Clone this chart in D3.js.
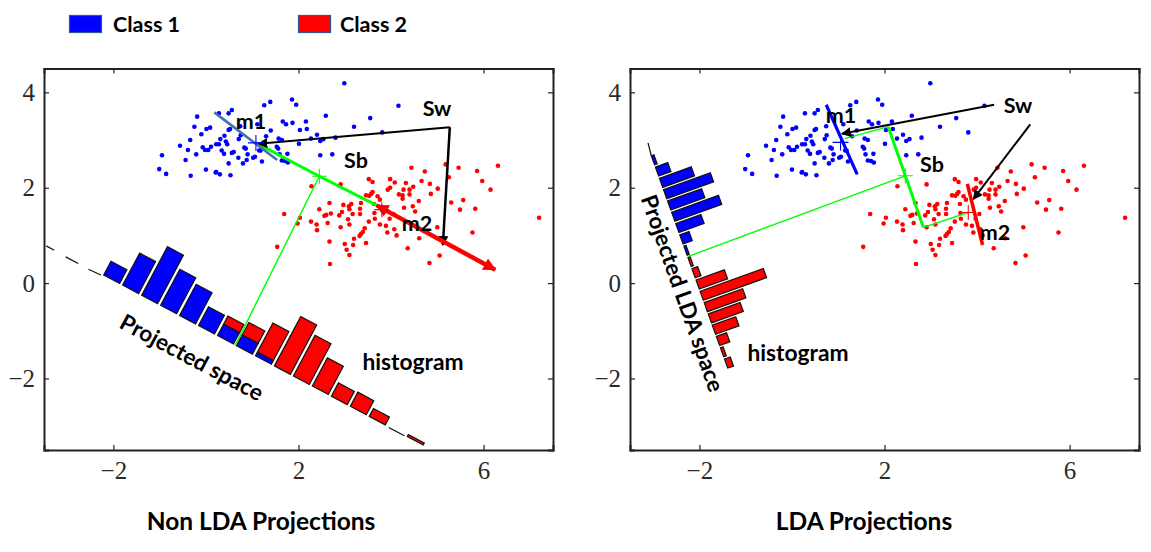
<!DOCTYPE html>
<html>
<head>
<meta charset="utf-8">
<script src="https://cdn.jsdelivr.net/npm/d3@7"></script>
<style>
  html, body { margin: 0; padding: 0; background: #fff; }
  svg { display: block; }
  .tick text { font-family: "Liberation Serif", serif; font-size: 25px; fill: #2a2a2a; }
  .domain, .tick line { stroke: #222; }
  .label { font-family: Lato, sans-serif; font-weight: 700; fill: #000; }
</style>
</head>
<body>
<svg id="chart" width="1151" height="552"></svg>
<script>
const xTicks = [-2, 2, 6]
const yTicks = [-2, 0, 2, 4]

// both panels show the same two point clouds
const class1Points = [
  [-1.01,2.39],[-0.95,2.68],[-0.86,2.29],[-0.56,2.88],[-0.44,2.58],[-0.39,2.79],[-0.34,3.00],[-0.33,2.25],
  [-0.25,3.28],[-0.19,3.49],[-0.21,2.70],[-0.10,3.12],[-0.07,2.85],[-0.02,2.79],[0.01,3.23],[0.00,2.38],
  [0.05,2.79],[0.09,3.26],[0.11,2.86],[0.21,2.32],[0.22,2.33],[0.30,2.28],[0.22,2.91],[0.28,2.91],
  [0.31,3.02],[0.40,3.09],[0.28,3.56],[0.49,3.56],[0.56,3.63],[0.49,3.21],[0.52,3.23],[0.34,2.78],
  [0.39,2.71],[0.43,2.97],[0.46,2.91],[0.56,2.73],[0.60,2.75],[0.49,2.51],[0.53,2.26],[0.71,3.02],
  [0.75,3.10],[0.70,2.63],[0.80,2.51],[0.83,2.84],[0.86,2.82],[0.88,2.58],[0.90,2.70],[1.02,2.63],
  [1.06,2.65],[1.21,2.55],[1.11,3.33],[1.26,3.73],[1.39,3.80],[1.40,3.20],[1.30,3.08],[1.15,2.78],
  [1.18,2.78],[1.53,2.86],[1.56,2.82],[1.59,2.70],[1.71,2.56],[1.76,2.71],[1.77,2.53],[1.57,3.03],
  [0.74,3.29],[1.86,3.85],[1.95,3.74],[1.66,3.39],[1.73,3.33],[1.87,3.36],[2.03,3.21],[2.01,2.92],
  [1.64,3.00],[1.64,2.57],[2.99,4.19],[2.59,3.51],[4.16,3.72],[2.16,3.39],[3.55,3.46],[3.20,3.28],
  [2.18,3.23],[2.40,3.11],[3.81,3.16],[2.27,3.03],[2.47,2.98],[2.54,3.02],[2.80,3.05],[2.47,2.68],
  [2.73,2.70]
]
const class2Points = [
  [1.54,0.76],[2.28,2.03],[1.69,1.45],[2.03,1.37],[1.98,1.25],[2.27,1.29],[2.39,1.23],[2.40,1.11],
  [2.45,1.55],[2.56,1.41],[2.60,1.43],[2.70,1.46],[2.67,1.68],[2.63,1.26],[2.67,0.87],[2.68,0.40],
  [2.91,2.07],[2.97,1.64],[2.94,1.49],[2.88,1.42],[2.91,1.17],[3.00,0.82],[3.04,0.70],[3.10,0.59],
  [3.18,0.80],[3.20,0.93],[3.07,1.34],[3.10,1.23],[3.17,1.45],[3.09,1.61],[3.10,1.55],[3.14,1.66],
  [3.35,1.68],[3.33,1.56],[3.33,1.45],[3.32,0.99],[3.35,1.03],[3.39,1.07],[3.43,1.15],[3.46,0.84],
  [3.52,1.29],[3.46,1.84],[3.53,1.83],[3.57,1.87],[3.60,1.91],[3.71,1.82],[3.76,1.75],[3.64,1.47],
  [3.65,1.35],[3.76,1.23],[3.89,1.20],[3.92,1.06],[4.07,1.13],[4.12,1.00],[3.97,1.35],[3.93,1.96],
  [3.98,2.00],[3.60,2.12],[3.52,2.18],[3.98,2.18],[4.08,2.11],[4.32,2.10],[4.27,1.96],[4.40,1.96],
  [4.48,2.02],[4.17,1.86],[4.25,1.84],[4.25,1.77],[4.40,1.86],[4.60,1.72],[4.28,1.58],[4.47,1.61],
  [4.52,1.50],[4.61,0.94],[4.36,0.73],[4.83,0.42],[5.05,0.58],[5.00,1.17],[4.66,2.14],[4.84,2.08],
  [5.01,1.98],[4.86,1.87],[4.73,2.34],[4.44,2.42],[5.18,2.49],[5.25,2.22],[5.46,2.42],[5.86,2.35],
  [6.31,2.46],[5.97,2.14],[6.15,1.96],[5.30,1.69],[5.56,1.74],[5.49,1.54],[5.82,1.56],[5.76,1.06],
  [7.20,1.37],[4.05,1.45],[3.63,1.66]
]

// histogram bin heights, one value per bin along the projection axis
const leftClass1Bins = [3.3, 7.7, 11.7, 8.7, 7.5, 4.5, 2.8, 2.6, 0.9, 0, 0, 0, 0, 0, 0, 0, 0]
const leftClass2Bins = [0, 0, 0, 0, 0, 0, 1.9, 3.0, 7.0, 11.9, 9.8, 6.8, 3.2, 3.4, 1.9, 0, 0.5]
const rightClass1Bins = [0.6, 2.8, 7.2, 10.6, 7.7, 10.6, 5.7, 2.1, 0.5, 0, 0, 0, 0, 0, 0, 0, 0, 0, 0]
const rightClass2Bins = [0, 0, 0, 0, 0, 0, 0, 0, 0, 0.5, 1.3, 6.4, 14.3, 8.7, 7.2, 5.3, 2.3, 0.6, 1.3]

// first and last bin edge of each histogram on its axis
const leftBinRange = [[-2.21, 0.17], [4.76, -3.43]]
const rightBinRange = [[-3.04, 2.67], [-1.37, -1.83]]

const leftAxisDashes = [
  [[-3.45, 0.78], [-3.28, 0.69]], [[-3.03, 0.55], [-2.76, 0.41]], [[-2.54, 0.29], [-2.27, 0.17]],
  [[3.95, -3.03], [4.29, -3.20]]
]
const rightAxisLine = [[-3.11, 2.94], [-3.04, 2.67]]

const leftSegments = {
  m1Line: [[0.18, 3.58], [1.54, 2.58]],
  sb: [[1.08, 2.94], [2.45, 2.24], [3.69, 1.63]],
  toAxis: [[2.45, 2.24], [0.63, -1.31]],
  sw1: [[5.27, 3.27], [1.13, 2.92]],
  sw2: [[5.27, 3.27], [5.12, 0.80]],
  m2Arrow: [[3.69, 1.63], [6.25, 0.28]]
}
const rightSegments = {
  m1Line: [[0.74, 3.74], [1.41, 2.28]],
  m2Line: [[3.79, 2.08], [4.12, 0.80]],
  sb: [[2.08, 3.28], [2.84, 1.17]],
  sbThin: [[1.14, 3.03], [2.08, 3.28]],
  sbThin2: [[2.84, 1.17], [3.81, 1.48]],
  toAxis: [[2.45, 2.25], [-2.24, 0.56]],
  sw1: [[4.37, 3.74], [1.08, 3.13]],
  sw2: [[5.15, 3.33], [3.92, 1.76]]
}

const BLUE = "#0000ff", RED = "#ff0000", GREEN = "#00ff00"

const svg = d3.select("#chart")
const line = d3.line()

const defs = svg.append("defs")
function addHead(id, color, size) {
  defs.append("marker")
      .attr("id", id)
      .attr("viewBox", "0 0 10 10")
      .attr("refX", 9).attr("refY", 5)
      .attr("markerUnits", "userSpaceOnUse")
      .attr("markerWidth", size).attr("markerHeight", size)
      .attr("orient", "auto-start-reverse")
    .append("path")
      .attr("d", "M0,0L10,5L0,10Z")
      .attr("fill", color)
}
addHead("head-black", "#000", 10)
addHead("head-red", RED, 13)

const countPx = d3.scaleLinear().domain([0, 12]).range([0, 56.4])

function drawAxes(g, x, y) {
  const noLabel = () => ""
  g.append("g").attr("transform", "translate(" + x.range()[0] + ",0)")
      .call(d3.axisLeft(y).tickValues(yTicks).tickSize(-5).tickPadding(9))
  const bottom = g.append("g").attr("transform", "translate(0," + y.range()[0] + ")")
      .call(d3.axisBottom(x).tickValues(xTicks).tickSize(-5).tickPadding(11))
  g.append("g").attr("transform", "translate(0," + y.range()[1] + ")")
      .call(d3.axisTop(x).tickValues(xTicks).tickSize(-5).tickFormat(noLabel))
  g.append("g").attr("transform", "translate(" + x.range()[1] + ",0)")
      .call(d3.axisRight(y).tickValues(yTicks).tickSize(-5).tickFormat(noLabel))
  g.selectAll(".domain").attr("stroke-width", 2)
  g.selectAll(".tick line").attr("stroke-width", 1.2)
  bottom.selectAll("text").attr("dy", "0.71em")
}

function drawPoints(g, x, y, points, color) {
  g.append("g").selectAll("circle")
    .data(points)
    .join("circle")
      .attr("cx", d => x(d[0]))
      .attr("cy", d => y(d[1]))
      .attr("r", 2.3)
      .attr("fill", color)
}

function drawPath(g, x, y, pts, color, width, head) {
  const p = g.append("path")
      .attr("d", line(pts.map(d => [x(d[0]), y(d[1])])))
      .attr("fill", "none")
      .attr("stroke", color)
      .attr("stroke-width", width)
  if (head) p.attr("marker-end", "url(#" + head + ")")
  return p
}

function drawPlus(g, x, y, at, color, size) {
  const cx = x(at[0]), cy = y(at[1])
  g.append("path")
      .attr("d", "M" + (cx - size) + "," + cy + "H" + (cx + size) + "M" + cx + "," + (cy - size) + "V" + (cy + size))
      .attr("stroke", color)
      .attr("stroke-width", 1.1)
      .attr("fill", "none")
}

// bars stand on the projection axis, stacked where the classes overlap
function drawHistogram(g, x, y, range, class1, class2, widthShare) {
  const n = class1.length
  const x0 = x(range[0][0]), y0 = y(range[0][1])
  const x1 = x(range[1][0]), y1 = y(range[1][1])
  const len = Math.hypot(x1 - x0, y1 - y0)
  const ux = (x1 - x0) / len, uy = (y1 - y0) / len
  const nx = uy, ny = -ux
  const along = d3.scaleLinear().domain([0, n]).range([0, len])

  function bar(i, from, to) {
    const a = along(i), b = a + (along(1) - along(0)) * widthShare
    const h0 = countPx(from), h1 = countPx(to)
    return line([
      [x0 + ux * a + nx * h0, y0 + uy * a + ny * h0],
      [x0 + ux * b + nx * h0, y0 + uy * b + ny * h0],
      [x0 + ux * b + nx * h1, y0 + uy * b + ny * h1],
      [x0 + ux * a + nx * h1, y0 + uy * a + ny * h1]
    ]) + "Z"
  }

  g.append("g").selectAll("path")
    .data(class1.map((v, i) => ({ v, i })).filter(d => d.v > 0))
    .join("path")
      .attr("d", d => bar(d.i, 0, d.v))
      .attr("fill", BLUE)
      .attr("stroke", "#111")
      .attr("stroke-width", 1.2)
  g.append("g").selectAll("path")
    .data(class2.map((v, i) => ({ v, i })).filter(d => d.v > 0))
    .join("path")
      .attr("d", d => bar(d.i, class1[d.i], class1[d.i] + d.v))
      .attr("fill", RED)
      .attr("stroke", "#111")
      .attr("stroke-width", 1.2)
}

function addLabel(text, px, py, size, angle) {
  const t = svg.append("text")
      .attr("class", "label")
      .attr("text-anchor", "middle")
      .attr("dominant-baseline", "central")
      .attr("font-size", size)
      .text(text)
  t.attr("transform", "translate(" + px + "," + py + ")" + (angle ? " rotate(" + angle + ")" : ""))
}

function leftPanel() {
  const x = d3.scaleLinear().domain([-3.5, 7.5]).range([44, 553])
  const y = d3.scaleLinear().domain([-3.5, 4.5]).range([450, 68.5])
  const g = svg.append("g")

  drawAxes(g, x, y)
  drawPoints(g, x, y, class1Points, BLUE)
  drawPoints(g, x, y, class2Points, RED)

  leftAxisDashes.forEach(d => drawPath(g, x, y, d, "#111", 1.2))
  drawHistogram(g, x, y, leftBinRange, leftClass1Bins, leftClass2Bins, 0.84)

  const s = leftSegments
  drawPath(g, x, y, s.toAxis, GREEN, 1.4)
  drawPath(g, x, y, s.sb, GREEN, 3)
  drawPath(g, x, y, s.sw1, "#000", 2, "head-black")
  drawPath(g, x, y, s.sw2, "#000", 2.5, "head-black")
  drawPath(g, x, y, s.m2Arrow, RED, 4.5, "head-red").attr("marker-start", "url(#head-red)")
  drawPath(g, x, y, s.m1Line, "#4472b0", 2.6)
  drawPlus(g, x, y, [1.08, 2.94], BLUE, 8)
  drawPlus(g, x, y, [2.45, 2.24], GREEN, 7.5)
  drawPlus(g, x, y, [3.80, 1.54], RED, 7.5)

  addLabel("m1", 251, 121, 21.5)
  addLabel("Sw", 437, 108, 21.5)
  addLabel("Sb", 356, 160, 21.5)
  addLabel("m2", 417, 223, 21.5)
  addLabel("histogram", 413, 361, 22.8)
  addLabel("Projected space", 192, 357, 22.5, 28)
  addLabel("Non LDA Projections", 261, 520, 24.5)
}

function rightPanel() {
  const x = d3.scaleLinear().domain([-3.5, 7.5]).range([630, 1139])
  const y = d3.scaleLinear().domain([-3.5, 4.5]).range([450, 68.5])
  const g = svg.append("g")

  drawAxes(g, x, y)
  drawPoints(g, x, y, class1Points, BLUE)
  drawPoints(g, x, y, class2Points, RED)

  drawPath(g, x, y, rightAxisLine, "#111", 1.2)
  drawHistogram(g, x, y, rightBinRange, rightClass1Bins, rightClass2Bins, 0.8)

  const s = rightSegments
  drawPath(g, x, y, s.toAxis, GREEN, 1.4)
  drawPath(g, x, y, s.sbThin, GREEN, 1.4)
  drawPath(g, x, y, s.sbThin2, GREEN, 1.4)
  drawPath(g, x, y, s.sb, GREEN, 3)
  drawPath(g, x, y, s.sw1, "#000", 2, "head-black")
  drawPath(g, x, y, s.sw2, "#000", 2, "head-black")
  drawPath(g, x, y, s.m1Line, BLUE, 3.2)
  drawPath(g, x, y, s.m2Line, RED, 3.6)
  drawPlus(g, x, y, [1.05, 2.95], BLUE, 8)
  drawPlus(g, x, y, [2.45, 2.25], GREEN, 7.5)
  drawPlus(g, x, y, [3.81, 1.48], RED, 7.5)

  addLabel("m1", 841, 115, 21.5)
  addLabel("Sw", 1018, 105, 21.5)
  addLabel("Sb", 932, 164, 21.5)
  addLabel("m2", 995, 232, 21.5)
  addLabel("histogram", 798, 352, 22.8)
  addLabel("Projected LDA space", 683, 293, 22.5, 70.5)
  addLabel("LDA Projections", 864, 520, 24.5)
}

function legend() {
  const entries = [
    { name: "Class 1", color: BLUE, left: 69.5, textAt: 113 },
    { name: "Class 2", color: RED, left: 298.5, textAt: 340 }
  ]
  const items = svg.append("g").selectAll("g").data(entries).join("g")
  items.append("rect")
      .attr("x", d => d.left)
      .attr("y", 15.5)
      .attr("width", 32)
      .attr("height", 17)
      .attr("fill", d => d.color)
      .attr("stroke", "#2f5597")
      .attr("stroke-width", 1.2)
  items.append("text")
      .attr("class", "label")
      .attr("x", d => d.textAt)
      .attr("y", 24)
      .attr("dominant-baseline", "central")
      .attr("font-size", 21.5)
      .text(d => d.name)
}

leftPanel()
rightPanel()
legend()
</script>
</body>
</html>
